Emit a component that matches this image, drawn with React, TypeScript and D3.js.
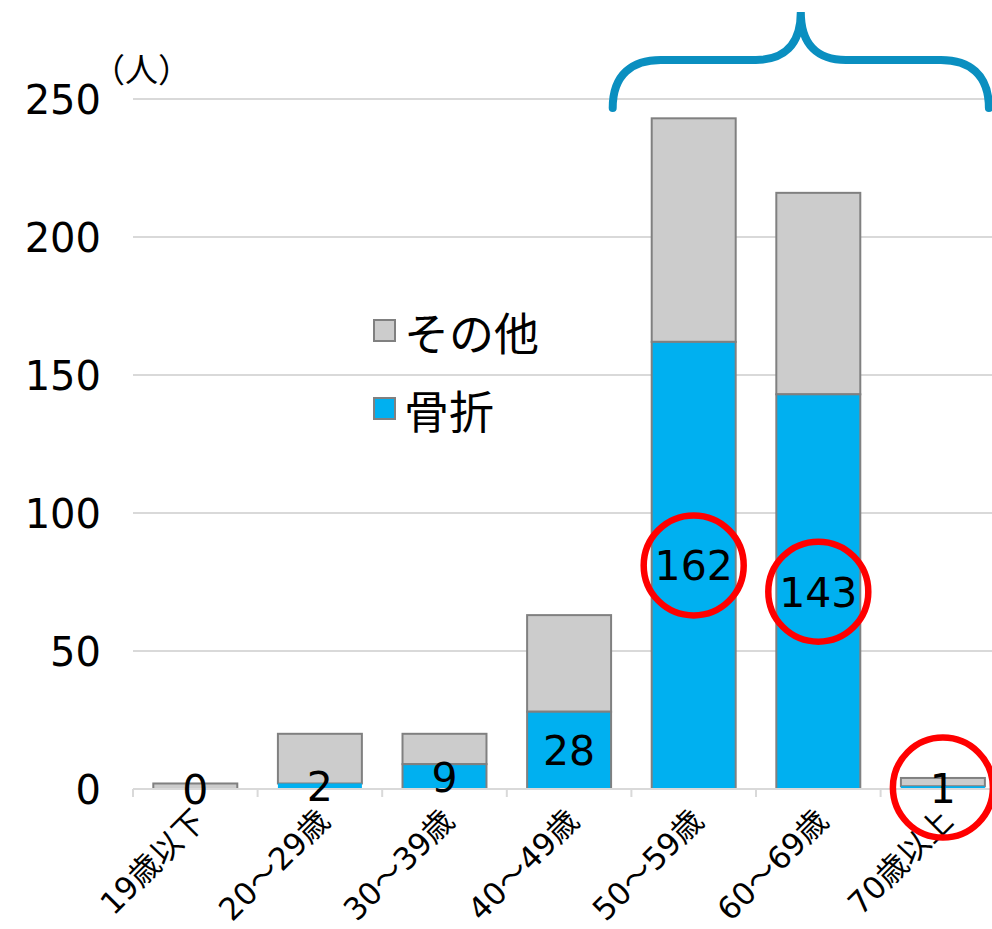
import React, { useRef, useEffect } from 'react';
import * as d3 from 'd3';

const categories = ['19歳以下', '20～29歳', '30～39歳', '40～49歳', '50～59歳', '60～69歳', '70歳以上'];
const fracture = [0, 2, 9, 28, 162, 143, 1];
const other = [2, 18, 11, 35, 81, 73, 3];
const yTicks = [0, 50, 100, 150, 200, 250];
const circled = ['50～59歳', '60～69歳', '70歳以上'];
const seriesNames = ['その他', '骨折'];

const WIDTH = 992;
const HEIGHT = 929;
const FONT = '"DejaVu Sans", "Noto Sans CJK JP", sans-serif';
const CJK = '"Noto Sans CJK JP", sans-serif';
const BLUE = '#00b0f0';
const GRAY = '#cccccc';

const App: React.FC = () => {
  const svgRef = useRef<SVGSVGElement>(null);

  useEffect(() => {
    if (!svgRef.current) return;
    const svg = d3.select(svgRef.current);
    svg.selectAll('*').remove();

    const x = d3.scaleBand<string>()
      .domain(categories)
      .range([133, 133 + 7 * 124.6])
      .paddingInner(0.326)
      .paddingOuter(0.163);

    const y = d3.scaleLinear().domain([0, 250]).range([789, 99]);

    // grille horizontale
    svg.append('g')
      .selectAll('line')
      .data(yTicks.filter(d => d > 0))
      .join('line')
      .attr('x1', 133)
      .attr('x2', WIDTH)
      .attr('y1', d => y(d))
      .attr('y2', d => y(d))
      .attr('stroke', '#d9d9d9')
      .attr('stroke-width', 2);

    // labels axe Y
    svg.append('g')
      .selectAll('text')
      .data(yTicks)
      .join('text')
      .attr('x', 101)
      .attr('y', d => y(d) + 1)
      .attr('text-anchor', 'end')
      .attr('dominant-baseline', 'central')
      .style('font-family', FONT)
      .style('font-size', '40px')
      .attr('fill', '#000')
      .text(d => d);

    svg.append('text')
      .attr('x', 92)
      .attr('y', 68)
      .attr('dominant-baseline', 'central')
      .style('font-family', CJK)
      .style('font-size', '33px')
      .text('（人）');

    // barres empilées
    const rows = categories.map((c, i) => ({ c, f: fracture[i], o: other[i] }));
    const bars = svg.append('g');
    bars.selectAll('rect.other')
      .data(rows)
      .join('rect')
      .attr('class', 'other')
      .attr('x', d => x(d.c)!)
      .attr('width', x.bandwidth())
      .attr('y', d => y(d.f + d.o))
      .attr('height', d => y(d.f) - y(d.f + d.o))
      .attr('fill', GRAY)
      .attr('stroke', '#808080')
      .attr('stroke-width', 2);
    bars.selectAll('rect.frac')
      .data(rows.filter(d => d.f > 0))
      .join('rect')
      .attr('class', 'frac')
      .attr('x', d => x(d.c)!)
      .attr('width', x.bandwidth())
      .attr('y', d => y(d.f))
      .attr('height', d => y(0) - y(d.f))
      .attr('fill', BLUE)
      .attr('stroke', d => (d.f > 5 ? '#808080' : 'none'))
      .attr('stroke-width', 2);

    // axe X
    const axis = svg.append('g');
    axis.append('line')
      .attr('x1', 133).attr('x2', WIDTH)
      .attr('y1', y(0)).attr('y2', y(0))
      .attr('stroke', '#d9d9d9').attr('stroke-width', 2);
    axis.selectAll('line.tick')
      .data(categories)
      .join('line')
      .attr('class', 'tick')
      .attr('x1', d => x(d)! - x.step() * x.paddingInner() / 2)
      .attr('x2', d => x(d)! - x.step() * x.paddingInner() / 2)
      .attr('y1', y(0))
      .attr('y2', y(0) + 8)
      .attr('stroke', '#d9d9d9').attr('stroke-width', 2);

    axis.selectAll('text')
      .data(categories)
      .join('text')
      .attr('transform', d => `translate(${x(d)! + x.bandwidth() / 2 + 4},${y(0) + 26}) rotate(-45)`)
      .attr('text-anchor', 'end')
      .attr('dominant-baseline', 'central')
      .style('font-family', FONT)
      .style('font-size', '31px')
      .text(d => d);

    // étiquettes de données
    svg.append('g')
      .selectAll('text')
      .data(rows)
      .join('text')
      .attr('x', d => x(d.c)! + x.bandwidth() / 2)
      .attr('y', d => y(d.f / 2) + 1)
      .attr('text-anchor', 'middle')
      .attr('dominant-baseline', 'central')
      .style('font-family', FONT)
      .style('font-size', '41px')
      .text(d => d.f);

    // cercles rouges
    svg.append('g')
      .selectAll('circle')
      .data(rows.filter(d => circled.includes(d.c)))
      .join('circle')
      .attr('cx', d => x(d.c)! + x.bandwidth() / 2)
      .attr('cy', d => y(d.f / 2))
      .attr('r', 50)
      .attr('fill', 'none')
      .attr('stroke', '#ff0000')
      .attr('stroke-width', 6.5);

    // accolade bleue
    const bl = x('50～59歳')! - 39;
    const br = x('70歳以上')! + x.bandwidth() + 4;
    const bm = (bl + br) / 2;
    const by = y(250) + 9;
    const hy = 60;
    const ty = 12;
    const brace = `M${bl},${by} C${bl},${hy + 14} ${bl + 20},${hy} ${bl + 48},${hy}
      L${bm - 45},${hy} C${bm - 18},${hy} ${bm},${hy - 14} ${bm},${ty}
      C${bm},${hy - 14} ${bm + 18},${hy} ${bm + 45},${hy}
      L${br - 48},${hy} C${br - 20},${hy} ${br},${hy + 14} ${br},${by}`;
    svg.append('path')
      .attr('d', brace)
      .attr('fill', 'none')
      .attr('stroke', '#0a8fc0')
      .attr('stroke-width', 8)
      .attr('stroke-linecap', 'round');

    // légende
    const legend = svg.append('g');
    const lg = [
      { name: seriesNames[0], color: GRAY, y: 331 },
      { name: seriesNames[1], color: BLUE, y: 409 },
    ];
    lg.forEach(l => {
      legend.append('rect')
        .attr('x', 374).attr('y', l.y - 11)
        .attr('width', 21).attr('height', 21)
        .attr('fill', l.color)
        .attr('stroke', '#808080').attr('stroke-width', 2);
      legend.append('text')
        .attr('x', 404).attr('y', l.y)
        .attr('dominant-baseline', 'central')
        .style('font-family', CJK)
        .style('font-size', '45px')
        .text(l.name);
    });
  }, []);

  return (
    <svg
      ref={svgRef}
      width={WIDTH}
      height={HEIGHT}
      style={{ position: 'absolute', left: 0, top: 0, background: '#fff' }}
    />
  );
};

export default App;
